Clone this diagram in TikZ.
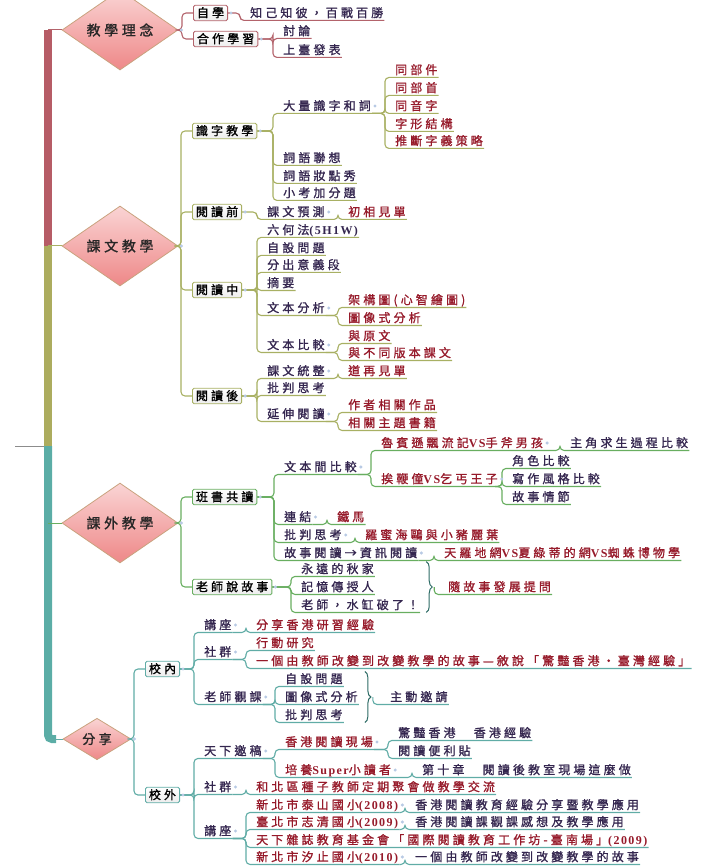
\documentclass[tikz,border=0pt]{standalone}
\usepackage{fontspec}
\setmainfont{Noto Sans CJK TC}[LetterSpace=26, FakeBold=1.2]
\newfontfamily\lat{Liberation Serif}[LetterSpace=12]
\newcommand{\asc}[1]{{\lat\bfseries #1}}
\usetikzlibrary{shapes.geometric,decorations.pathreplacing}
\definecolor{cA}{HTML}{B3636B}
\definecolor{cB}{HTML}{A8B063}
\definecolor{cC}{HTML}{68AE60}
\definecolor{cD}{HTML}{60ACA6}
\definecolor{barA}{HTML}{B65C66}
\definecolor{barB}{HTML}{ACAC5E}
\definecolor{barC}{HTML}{5BADA6}
\definecolor{tnav}{HTML}{34264F}
\definecolor{tred}{HTML}{961A2A}
\definecolor{dotc}{HTML}{B8CAE4}
\definecolor{dmtop}{HTML}{FAD4D4}
\definecolor{dmbot}{HTML}{EE8888}
\definecolor{dmline}{HTML}{C9A27E}
\definecolor{brc}{HTML}{2E6C66}
\begin{document}
\begin{tikzpicture}[x=1pt,y=-1pt,
  lf/.style={anchor=west, inner xsep=1pt, inner ysep=1.5pt, text height=10pt, text depth=1.5pt, font=\fontsize{12}{12}\selectfont, text=tnav},
  lfr/.style={lf, text=tred},
  bx/.style={anchor=west, draw, rounded corners=1.5pt, line width=0.9pt, top color=white, bottom color=black!7, inner xsep=3.5pt, inner ysep=2pt, text height=10pt, text depth=1.5pt, font=\fontsize{12}{12}\selectfont, text=black},
  dm/.style={diamond, draw=dmline, line width=0.8pt, top color=dmtop, bottom color=dmbot, minimum width=116pt, minimum height=47pt, inner sep=0pt, font=\fontsize{14}{14}\selectfont, text=black!85},
  ln/.style={draw, line width=1.1pt, rounded corners=4pt},
  la/.style={ln, cA}, lb/.style={ln, cB}, lc/.style={ln, cC}, ld/.style={ln, cD},
  bar/.style={draw, line width=8pt},
  brace/.style={draw=brc, line width=1pt, decorate, decoration={brace, amplitude=6pt}}]
\useasboundingbox (0,0) rectangle (701,866);

% left bar
\coordinate (s1) at (48,30);
\coordinate (s2) at (48,246);
\coordinate (s3) at (48,523);
\coordinate (s4) at (48,739);
\coordinate (s0) at (48,446);
\coordinate (root) at (15,446);
\path[draw, line width=1pt, black!45] (root) -- (s0);
\path[bar, barA] (s1) -- (s2);
\path[bar, barB] (s2) -- (s0);
\path[bar, barC, rounded corners=4pt] (s0) -- (s4) -- ++(8,0);

% main topics
\node[dm] (d1) at (120,30) {教學理念};
\node[dm] (d2) at (120,246) {課文教學};
\node[dm] (d3) at (120,523) {課外教學};
\node[dm, minimum width=68pt, minimum height=39pt, font=\fontsize{13}{13}\selectfont] (d4) at (97,739) {分享};
\path[draw, line width=1pt, cA] (s1) -- (d1.west);
\path[draw, line width=1pt, cB] (s2) -- (d2.west);
\path[draw, line width=1pt, cC] (s3) -- (d3.west);
\path[draw, line width=1pt, cD] (s4) -- (d4.west);

% 教學理念
\node[bx, draw=cA] (b11) at (193,13) {自學};
\node[bx, draw=cA] (b12) at (193,39) {合作學習};
\node[lf] (l111) at (249,13) {知己知彼，百戰百勝};
\node[lf] (l121) at (282,31) {討論};
\node[lf] (l122) at (282,50) {上臺發表};

\path[la] (d1.east) -| ([xshift=-11pt]b11.west) -- (b11.west);
\path[la] (d1.east) -| ([xshift=-11pt]b12.west) -- (b12.west);
\path[la] (b11.east) -| ([xshift=-9pt]l111.south west) -- (l111.south east);
\path[la] (b12.east) -| ([xshift=-9pt]l121.south west) -- (l121.south east);
\path[la] (b12.east) -| ([xshift=-9pt]l122.south west) -- (l122.south east);

% 課文教學
\node[bx, draw=cB] (b21) at (192,131) {識字教學};
\node[bx, draw=cB] (b22) at (192,212) {閱讀前};
\node[bx, draw=cB] (b23) at (192,290) {閱讀中};
\node[bx, draw=cB] (b24) at (192,396) {閱讀後};

\node[lf] (l211) at (282,106) {大量識字和詞};
\node[lfr] (l2111) at (394,70) {同部件};
\node[lfr] (l2112) at (394,88) {同部首};
\node[lfr] (l2113) at (394,106) {同音字};
\node[lfr] (l2114) at (394,124) {字形結構};
\node[lfr] (l2115) at (394,141) {推斷字義策略};
\node[lf] (l212) at (282,158) {詞語聯想};
\node[lf] (l213) at (282,176) {詞語妝點秀};
\node[lf] (l214) at (282,193) {小考加分題};

\node[lf] (l221) at (266,212) {課文預測};
\node[lfr] (l2211) at (347,212) {初相見單};

\node[lf] (l231) at (266,230) {六何法\asc{(5H1W)}};
\node[lf] (l232) at (266,248) {自設問題};
\node[lf] (l233) at (266,265) {分出意義段};
\node[lf] (l234) at (266,283) {摘要};
\node[lf] (l235) at (266,308) {文本分析};
\node[lfr] (l2351) at (347,300) {架構圖(心智繪圖)};
\node[lfr] (l2352) at (347,318) {圖像式分析};
\node[lf] (l236) at (266,345) {文本比較};
\node[lfr] (l2361) at (347,336) {與原文};
\node[lfr] (l2362) at (347,353) {與不同版本課文};

\node[lf] (l241) at (266,371) {課文統整};
\node[lfr] (l2411) at (347,371) {道再見單};
\node[lf] (l242) at (266,388) {批判思考};
\node[lf] (l243) at (266,414) {延伸閱讀};
\node[lfr] (l2431) at (347,405) {作者相關作品};
\node[lfr] (l2432) at (347,423) {相關主題書籍};

\path[lb] (d2.east) -| ([xshift=-11pt]b21.west) -- (b21.west);
\path[lb] (d2.east) -| ([xshift=-11pt]b22.west) -- (b22.west);
\path[lb] (d2.east) -| ([xshift=-11pt]b23.west) -- (b23.west);
\path[lb] (d2.east) -| ([xshift=-11pt]b24.west) -- (b24.west);

\path[lb] (b21.east) -| ([xshift=-9pt]l211.south west) -- (l211.south east);
\path[lb] (b21.east) -| ([xshift=-9pt]l212.south west) -- (l212.south east);
\path[lb] (b21.east) -| ([xshift=-9pt]l213.south west) -- (l213.south east);
\path[lb] (b21.east) -| ([xshift=-9pt]l214.south west) -- (l214.south east);
\path[lb] (l211.south east) -| ([xshift=-9pt]l2111.south west) -- (l2111.south east);
\path[lb] (l211.south east) -| ([xshift=-9pt]l2112.south west) -- (l2112.south east);
\path[lb] (l211.south east) -| ([xshift=-9pt]l2113.south west) -- (l2113.south east);
\path[lb] (l211.south east) -| ([xshift=-9pt]l2114.south west) -- (l2114.south east);
\path[lb] (l211.south east) -| ([xshift=-9pt]l2115.south west) -- (l2115.south east);

\path[lb] (b22.east) -| ([xshift=-9pt]l221.south west) -- (l221.south east);
\path[lb] (l221.south east) -| ([xshift=-9pt]l2211.south west) -- (l2211.south east);

\path[lb] (b23.east) -| ([xshift=-9pt]l231.south west) -- (l231.south east);
\path[lb] (b23.east) -| ([xshift=-9pt]l232.south west) -- (l232.south east);
\path[lb] (b23.east) -| ([xshift=-9pt]l233.south west) -- (l233.south east);
\path[lb] (b23.east) -| ([xshift=-9pt]l234.south west) -- (l234.south east);
\path[lb] (b23.east) -| ([xshift=-9pt]l235.south west) -- (l235.south east);
\path[lb] (b23.east) -| ([xshift=-9pt]l236.south west) -- (l236.south east);
\path[lb] (l235.south east) -| ([xshift=-9pt]l2351.south west) -- (l2351.south east);
\path[lb] (l235.south east) -| ([xshift=-9pt]l2352.south west) -- (l2352.south east);
\path[lb] (l236.south east) -| ([xshift=-9pt]l2361.south west) -- (l2361.south east);
\path[lb] (l236.south east) -| ([xshift=-9pt]l2362.south west) -- (l2362.south east);

\path[lb] (b24.east) -| ([xshift=-9pt]l241.south west) -- (l241.south east);
\path[lb] (b24.east) -| ([xshift=-9pt]l242.south west) -- (l242.south east);
\path[lb] (b24.east) -| ([xshift=-9pt]l243.south west) -- (l243.south east);
\path[lb] (l241.south east) -| ([xshift=-9pt]l2411.south west) -- (l2411.south east);
\path[lb] (l243.south east) -| ([xshift=-9pt]l2431.south west) -- (l2431.south east);
\path[lb] (l243.south east) -| ([xshift=-9pt]l2432.south west) -- (l2432.south east);

% 課外教學
\node[bx, draw=cC] (b31) at (192,497) {班書共讀};
\node[bx, draw=cC] (b32) at (192,587) {老師說故事};
\node[lf] (l311) at (283,467) {文本間比較};
\node[lfr] (l3111) at (380,443) {魯賓遜飄流記\asc{VS}手斧男孩};
\node[lf] (l31111) at (569,443) {主角求生過程比較};
\node[lfr] (l3112) at (380,479) {挨鞭僮\asc{VS}乞丐王子};
\node[lf] (l31121) at (511,461) {角色比較};
\node[lf] (l31122) at (511,479) {寫作風格比較};
\node[lf] (l31123) at (511,497) {故事情節};
\node[lf] (l312) at (283,517) {連結};
\node[lfr] (l3121) at (336,517) {鐵馬};
\node[lf] (l313) at (283,535) {批判思考};
\node[lfr] (l3131) at (364,535) {羅蜜海鷗與小豬麗葉};
\node[lf] (l314) at (283,553) {故事閱讀→資訊閱讀};
\node[lfr] (l3141) at (443,553) {天羅地網\asc{VS}夏綠蒂的網\asc{VS}蜘蛛博物學};
\node[lf] (l321) at (300,569) {永遠的秋家};
\node[lf] (l322) at (300,587) {記憶傳授人};
\node[lf] (l323) at (300,605) {老師，水缸破了！};
\node[lfr] (s31) at (447,587) {隨故事發展提問};

\path[lc] (d3.east) -| ([xshift=-11pt]b31.west) -- (b31.west);
\path[lc] (d3.east) -| ([xshift=-11pt]b32.west) -- (b32.west);
\path[lc] (b31.east) -| ([xshift=-9pt]l311.south west) -- (l311.south east);
\path[lc] (b31.east) -| ([xshift=-9pt]l312.south west) -- (l312.south east);
\path[lc] (b31.east) -| ([xshift=-9pt]l313.south west) -- (l313.south east);
\path[lc] (b31.east) -| ([xshift=-9pt]l314.south west) -- (l314.south east);
\path[lc] (l311.south east) -| ([xshift=-9pt]l3111.south west) -- (l3111.south east);
\path[lc] (l311.south east) -| ([xshift=-9pt]l3112.south west) -- (l3112.south east);
\path[lc] (l3111.south east) -| ([xshift=-9pt]l31111.south west) -- (l31111.south east);
\path[lc] (l3112.south east) -| ([xshift=-9pt]l31121.south west) -- (l31121.south east);
\path[lc] (l3112.south east) -| ([xshift=-9pt]l31122.south west) -- (l31122.south east);
\path[lc] (l3112.south east) -| ([xshift=-9pt]l31123.south west) -- (l31123.south east);
\path[lc] (l312.south east) -| ([xshift=-9pt]l3121.south west) -- (l3121.south east);
\path[lc] (l313.south east) -| ([xshift=-9pt]l3131.south west) -- (l3131.south east);
\path[lc] (l314.south east) -| ([xshift=-9pt]l3141.south west) -- (l3141.south east);
\path[lc] (b32.east) -| ([xshift=-9pt]l321.south west) -- (l321.south east);
\path[lc] (b32.east) -| ([xshift=-9pt]l322.south west) -- (l322.south east);
\path[lc] (b32.east) -| ([xshift=-9pt]l323.south west) -- (l323.south east);
\path[brace] ([xshift=6pt]l323.east |- l321.north) -- coordinate (m31) ([xshift=6pt]l323.east |- l323.south);
\path[lc] ([xshift=8pt]m31) |- (s31.south west) -- (s31.south east);

% 分享
\node[bx, draw=cD] (b41) at (145,669) {校內};
\node[bx, draw=cD] (b42) at (145,795) {校外};
\node[lf] (l411) at (203,625) {講座};
\node[lfr] (l4111) at (255,625) {分享香港研習經驗};
\node[lf] (l412) at (203,652) {社群};
\node[lfr] (l4121) at (255,643) {行動研究};
\node[lfr] (l4122) at (255,661) {一個由教師改變到改變教學的故事—敘說「驚豔香港•臺灣經驗」};
\node[lf] (l413) at (203,697) {老師觀課};
\node[lf] (l4131) at (284,679) {自設問題};
\node[lf] (l4132) at (284,697) {圖像式分析};
\node[lf] (l4133) at (284,715) {批判思考};
\node[lf] (s41) at (389,697) {主動邀請};

\node[lf] (l421) at (203,751) {天下邀稿};
\node[lfr] (l4211) at (284,742) {香港閱讀現場};
\node[lf] (l42111) at (397,733) {驚豔香港　香港經驗};
\node[lf] (l42112) at (397,751) {閱讀便利貼};
\node[lfr] (l4212) at (284,770) {培養\asc{Super}小讀者};
\node[lf] (l42121) at (421,770) {第十章　閱讀後教室現場這麼做};
\node[lf] (l422) at (203,787) {社群};
\node[lfr] (l4221) at (255,787) {和北區種子教師定期聚會做教學交流};
\node[lf] (l423) at (203,831) {講座};
\node[lfr] (l4231) at (255,805) {新北市泰山國小\asc{(2008)}};
\node[lf] (l42311) at (414,805) {香港閱讀教育經驗分享暨教學應用};
\node[lfr] (l4232) at (255,822) {臺北市志清國小\asc{(2009)}};
\node[lf] (l42321) at (414,822) {香港閱讀課觀課感想及教學應用};
\node[lfr] (l4233) at (255,840) {天下雜誌教育基金會「國際閱讀教育工作坊-臺南場」\asc{(2009)}};
\node[lfr] (l4234) at (255,857) {新北市汐止國小\asc{(2010)}};
\node[lf] (l42341) at (414,857) {一個由教師改變到改變教學的故事};

\path[ld] (d4.east) -| ([xshift=-11pt]b41.west) -- (b41.west);
\path[ld] (d4.east) -| ([xshift=-11pt]b42.west) -- (b42.west);
\path[ld] (b41.east) -| ([xshift=-9pt]l411.south west) -- (l411.south east);
\path[ld] (b41.east) -| ([xshift=-9pt]l412.south west) -- (l412.south east);
\path[ld] (b41.east) -| ([xshift=-9pt]l413.south west) -- (l413.south east);
\path[ld] (l411.south east) -| ([xshift=-9pt]l4111.south west) -- (l4111.south east);
\path[ld] (l412.south east) -| ([xshift=-9pt]l4121.south west) -- (l4121.south east);
\path[ld] (l412.south east) -| ([xshift=-9pt]l4122.south west) -- (l4122.south east);
\path[ld] (l413.south east) -| ([xshift=-9pt]l4131.south west) -- (l4131.south east);
\path[ld] (l413.south east) -| ([xshift=-9pt]l4132.south west) -- (l4132.south east);
\path[ld] (l413.south east) -| ([xshift=-9pt]l4133.south west) -- (l4133.south east);
\path[brace] ([xshift=6pt]l4132.east |- l4131.north) -- coordinate (m41) ([xshift=6pt]l4132.east |- l4133.south);
\path[ld] ([xshift=8pt]m41) |- (s41.south west) -- (s41.south east);

\path[ld] (b42.east) -| ([xshift=-9pt]l421.south west) -- (l421.south east);
\path[ld] (b42.east) -| ([xshift=-9pt]l422.south west) -- (l422.south east);
\path[ld] (b42.east) -| ([xshift=-9pt]l423.south west) -- (l423.south east);
\path[ld] (l421.south east) -| ([xshift=-9pt]l4211.south west) -- (l4211.south east);
\path[ld] (l421.south east) -| ([xshift=-9pt]l4212.south west) -- (l4212.south east);
\path[ld] (l4211.south east) -| ([xshift=-9pt]l42111.south west) -- (l42111.south east);
\path[ld] (l4211.south east) -| ([xshift=-9pt]l42112.south west) -- (l42112.south east);
\path[ld] (l4212.south east) -| ([xshift=-9pt]l42121.south west) -- (l42121.south east);
\path[ld] (l422.south east) -| ([xshift=-9pt]l4221.south west) -- (l4221.south east);
\path[ld] (l423.south east) -| ([xshift=-9pt]l4231.south west) -- (l4231.south east);
\path[ld] (l423.south east) -| ([xshift=-9pt]l4232.south west) -- (l4232.south east);
\path[ld] (l423.south east) -| ([xshift=-9pt]l4233.south west) -- (l4233.south east);
\path[ld] (l423.south east) -| ([xshift=-9pt]l4234.south west) -- (l4234.south east);
\path[ld] (l4231.south east) -| ([xshift=-9pt]l42311.south west) -- (l42311.south east);
\path[ld] (l4232.south east) -| ([xshift=-9pt]l42321.south west) -- (l42321.south east);
\path[ld] (l4234.south east) -| ([xshift=-9pt]l42341.south west) -- (l42341.south east);

% collapse knobs
\foreach \n in {d1,d2,d3,d4,b11,b12,b21,b22,b23,b24,b31,b32,b41,b42,
  l211,l221,l235,l236,l241,l243,l311,l3111,l3112,l312,l313,l314,
  l411,l412,l413,l421,l4211,l4212,l422,l423,l4231,l4232,l4234}
  \fill[dotc] ([xshift=3pt]\n.east) circle (1.7pt);
\end{tikzpicture}
\end{document}
